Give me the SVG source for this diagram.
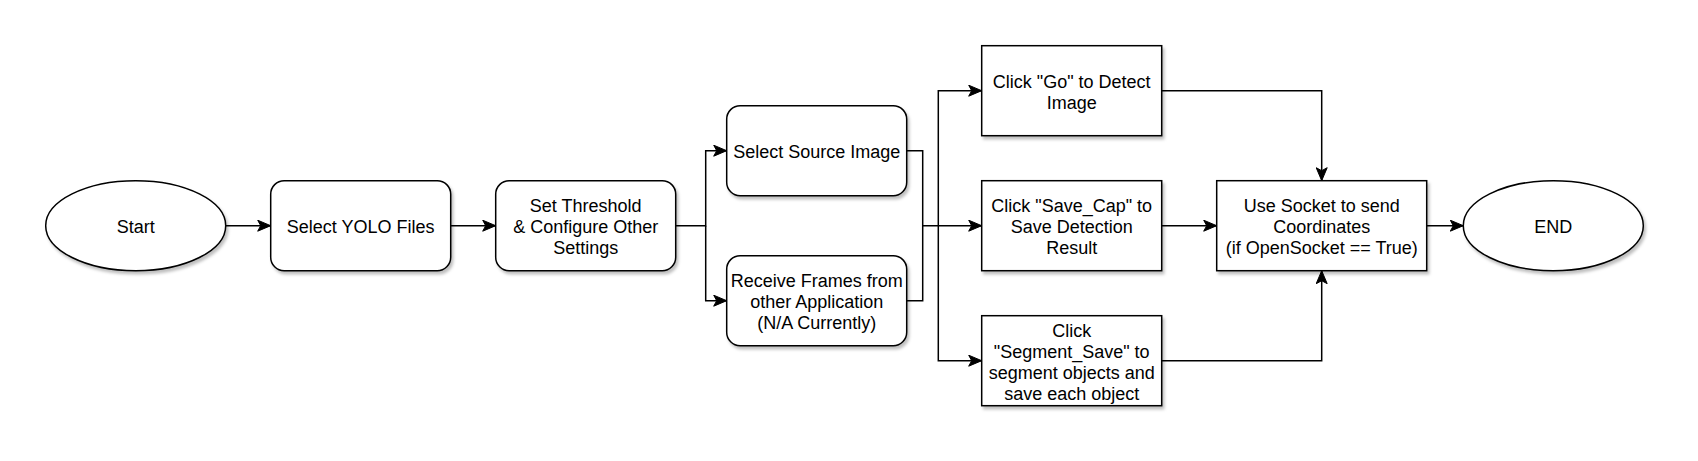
<svg xmlns="http://www.w3.org/2000/svg" width="1698" height="461" viewBox="0 0 1698 461">
<style>
.shape{fill:#ffffff;stroke:#000000;stroke-width:1.5;filter:url(#shadow)}
.edge{fill:none;stroke:#000000;stroke-width:1.5}
.arr{marker-end:url(#arrow)}
text{font-family:"Liberation Sans",Arial,Helvetica,sans-serif;font-size:18px;fill:#000000;text-anchor:middle}
</style>
<defs>
<filter id="shadow" x="-10%" y="-10%" width="130%" height="140%">
<feDropShadow dx="2" dy="3" stdDeviation="1.5" flood-color="#000000" flood-opacity="0.25"/>
</filter>
<marker id="arrow" markerUnits="userSpaceOnUse" viewBox="0 0 14 12" markerWidth="14" markerHeight="12" refX="13.5" refY="6" orient="auto">
<path d="M0.5,0.5 L13.5,6 L0.5,11.5 L3.5,6 Z" fill="#000000" stroke="#000000" stroke-width="1"/>
</marker>
</defs>
<rect width="1698" height="461" fill="#ffffff"/>
<g id="connectors">
<path class="edge arr" d="M225.7,225.7 H270.7"/>
<path class="edge arr" d="M450.7,225.7 H495.7"/>
<path class="edge arr" d="M675.7,225.7 H705.7 V150.7 H726.7"/>
<path class="edge arr" d="M705.7,225.7 V300.7 H726.7"/>
<path class="edge arr" d="M906.7,150.7 H922.7 V225.7 H981.7"/>
<path class="edge" d="M906.7,300.7 H922.7 V225.7"/>
<path class="edge arr" d="M938.3,225.7 V90.7 H981.7"/>
<path class="edge arr" d="M938.3,225.7 V360.7 H981.7"/>
<path class="edge arr" d="M1161.7,90.7 H1321.7 V180.7"/>
<path class="edge arr" d="M1161.7,225.7 H1216.7"/>
<path class="edge arr" d="M1161.7,360.7 H1321.7 V270.7"/>
<path class="edge arr" d="M1426.7,225.7 H1463.3"/>
</g>
<g id="start">
<ellipse class="shape" cx="135.7" cy="225.7" rx="90" ry="45"/>
<text x="135.7" y="233.2">Start</text>
</g>
<g id="select-yolo">
<rect class="shape" x="270.7" y="180.7" width="180" height="90" rx="13.5" ry="13.5"/>
<text x="360.7" y="233.2">Select YOLO Files</text>
</g>
<g id="set-threshold">
<rect class="shape" x="495.7" y="180.7" width="180" height="90" rx="13.5" ry="13.5"/>
<text x="585.7" y="212.2">Set Threshold</text>
<text x="585.7" y="233.2">&amp; Configure Other</text>
<text x="585.7" y="254.2">Settings</text>
</g>
<g id="select-source">
<rect class="shape" x="726.7" y="105.7" width="180" height="90" rx="13.5" ry="13.5"/>
<text x="816.7" y="158.2">Select Source Image</text>
</g>
<g id="receive-frames">
<rect class="shape" x="726.7" y="255.7" width="180" height="90" rx="13.5" ry="13.5"/>
<text x="816.7" y="287.2">Receive Frames from</text>
<text x="816.7" y="308.2">other Application</text>
<text x="816.7" y="329.2">(N/A Currently)</text>
</g>
<g id="click-go">
<rect class="shape" x="981.7" y="45.7" width="180" height="90"/>
<text x="1071.7" y="87.7">Click "Go" to Detect</text>
<text x="1071.7" y="108.7">Image</text>
</g>
<g id="click-save-cap">
<rect class="shape" x="981.7" y="180.7" width="180" height="90"/>
<text x="1071.7" y="212.2">Click "Save_Cap" to</text>
<text x="1071.7" y="233.2">Save Detection</text>
<text x="1071.7" y="254.2">Result</text>
</g>
<g id="click-segment-save">
<rect class="shape" x="981.7" y="315.7" width="180" height="90"/>
<text x="1071.7" y="336.7">Click</text>
<text x="1071.7" y="357.7">"Segment_Save" to</text>
<text x="1071.7" y="378.7">segment objects and</text>
<text x="1071.7" y="399.7">save each object</text>
</g>
<g id="use-socket">
<rect class="shape" x="1216.7" y="180.7" width="210" height="90"/>
<text x="1321.7" y="212.2">Use Socket to send</text>
<text x="1321.7" y="233.2">Coordinates</text>
<text x="1321.7" y="254.2">(if OpenSocket == True)</text>
</g>
<g id="end">
<ellipse class="shape" cx="1553.3" cy="225.7" rx="90" ry="45"/>
<text x="1553.3" y="233.2">END</text>
</g>
</svg>
